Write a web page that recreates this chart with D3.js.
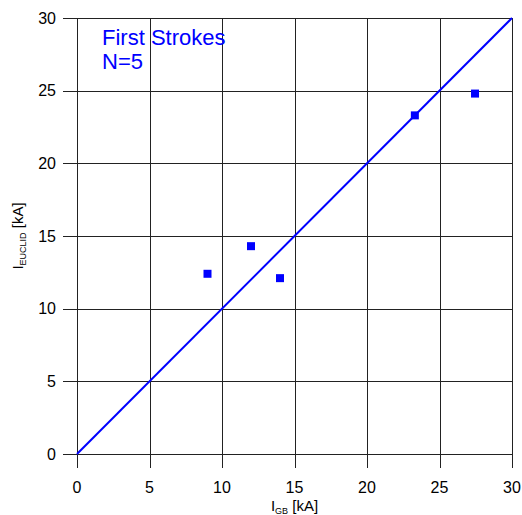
<!DOCTYPE html>
<html><head><meta charset="utf-8">
<script src="https://cdn.jsdelivr.net/npm/d3@7"></script>
<style>body{margin:0;background:#fff}svg{display:block}text{font-family:"Liberation Sans",Arial,sans-serif}</style>
</head><body>
<script>
const xValues = [9.0, 12.0, 14.0, 23.3, 27.45];
const yValues = [12.4, 14.3, 12.1, 23.3, 24.8];
const tickValues = [0, 5, 10, 15, 20, 25, 30];
const titleLines = ["First Strokes", "N=5"];

const W = 522, H = 515;
const svg = d3.select("body").append("svg").attr("width", W).attr("height", H);
const x = d3.scaleLinear().domain([0, 30]).range([77, 512]);
const y = d3.scaleLinear().domain([0, 30]).range([454, 18]);
const tickLen = 14;

// grid lines (extend past axes as ticks)
const g = svg.append("g").attr("stroke", "#222").attr("stroke-width", 1).attr("shape-rendering", "crispEdges");
g.selectAll("line.v").data(tickValues).join("line")
  .attr("x1", d => Math.round(x(d)) + 0.5).attr("x2", d => Math.round(x(d)) + 0.5)
  .attr("y1", y(30)).attr("y2", y(0) + tickLen);
g.selectAll("line.h").data(tickValues).join("line")
  .attr("y1", d => Math.round(y(d)) + 0.5).attr("y2", d => Math.round(y(d)) + 0.5)
  .attr("x1", x(0) - tickLen).attr("x2", x(30));

// tick labels
svg.append("g").selectAll("text").data(tickValues).join("text")
  .attr("x", d => x(d)).attr("y", 493).attr("text-anchor", "middle")
  .attr("font-size", 16).attr("fill", "#000").text(d => d);
svg.append("g").selectAll("text").data(tickValues).join("text")
  .attr("x", 56).attr("y", d => y(d)).attr("dy", "0.35em").attr("text-anchor", "end")
  .attr("font-size", 16).attr("fill", "#000").text(d => d);

// diagonal line
svg.append("line").attr("x1", x(0)).attr("y1", y(0)).attr("x2", x(30)).attr("y2", y(30))
  .attr("stroke", "#0000ff").attr("stroke-width", 2);

// points
svg.append("g").selectAll("rect").data(xValues.map((v, i) => [v, yValues[i]])).join("rect")
  .attr("x", d => x(d[0]) - 4).attr("y", d => y(d[1]) - 4)
  .attr("width", 8).attr("height", 8).attr("fill", "#0000ff");

// title
svg.append("g").selectAll("text").data(titleLines).join("text")
  .attr("x", 102).attr("y", (d, i) => 45 + i * 24)
  .attr("font-size", 22).attr("fill", "#0000ff").text(d => d);

// x label
const xl = svg.append("text").attr("x", (x(0) + x(30)) / 2).attr("y", 511)
  .attr("text-anchor", "middle").attr("font-size", 15).attr("fill", "#000");
xl.append("tspan").text("I");
xl.append("tspan").attr("font-size", 9).attr("dy", 3).text("GB");
xl.append("tspan").attr("dy", -3).text(" [kA]");

// y label
const yl = svg.append("text").attr("transform", `translate(23,${(y(0) + y(30)) / 2}) rotate(-90)`)
  .attr("text-anchor", "middle").attr("font-size", 15).attr("fill", "#000");
yl.append("tspan").text("I");
yl.append("tspan").attr("font-size", 9).attr("dy", 3).text("EUCLID");
yl.append("tspan").attr("dy", -3).text(" [kA]");
</script>
</body></html>
